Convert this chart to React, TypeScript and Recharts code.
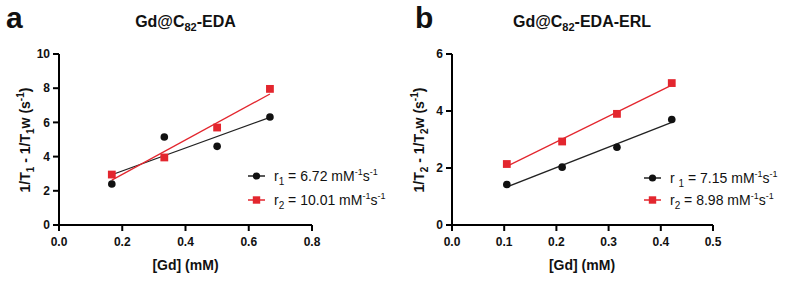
import React from 'react';
import { ScatterChart, Scatter, XAxis, YAxis } from 'recharts';

// Panel a: Gd@C82-EDA
const concA = [0.167, 0.333, 0.5, 0.667];
const r1A = [2.4, 5.15, 4.6, 6.32];
const r2A = [2.95, 3.95, 5.7, 7.96];
const xTicksA = [0, 0.2, 0.4, 0.6, 0.8];
const yTicksA = [0, 2, 4, 6, 8, 10];

// Panel b: Gd@C82-EDA-ERL
const concB = [0.105, 0.211, 0.316, 0.421];
const r1B = [1.42, 2.03, 2.73, 3.7];
const r2B = [2.14, 2.93, 3.9, 4.98];
const xTicksB = [0, 0.1, 0.2, 0.3, 0.4, 0.5];
const yTicksB = [0, 2, 4, 6];

const RED = '#e3262e';
const BLACK = '#111111';
const FONT = '"Liberation Sans", Arial, Helvetica, sans-serif';

const toPts = (xs: number[], ys: number[]) => xs.map((x, i) => ({ x, y: ys[i] }));

// least-squares fit line through the data (as drawn in the figure)
const fitLine = (xs: number[], ys: number[]) => {
  const n = xs.length;
  const mx = xs.reduce((a, b) => a + b, 0) / n;
  const my = ys.reduce((a, b) => a + b, 0) / n;
  let sxy = 0, sxx = 0;
  xs.forEach((x, i) => { sxy += (x - mx) * (ys[i] - my); sxx += (x - mx) * (x - mx); });
  const m = sxy / sxx;
  const b = my - m * mx;
  const x0 = Math.min(...xs), x1 = Math.max(...xs);
  return [{ x: x0, y: m * x0 + b }, { x: x1, y: m * x1 + b }];
};

const Dot = (p: any) => <circle cx={p.cx} cy={p.cy} r={3.8} fill={BLACK} />;
const Sq = (p: any) => <rect x={p.cx - 3.9} y={p.cy - 3.9} width={7.8} height={7.8} fill={RED} />;
const NoShape = () => <g />;

const tickStyle = { fill: '#111', fontSize: 12, fontWeight: 700, fontFamily: FONT };

function Panel(props: {
  xs: number[]; s1: number[]; s2: number[]; xTicks: number[]; yTicks: number[];
  marginLeft: number; marginRight: number;
}) {
  const { xs, s1, s2, xTicks, yTicks, marginLeft, marginRight } = props;
  const xMax = xTicks[xTicks.length - 1];
  const yMax = yTicks[yTicks.length - 1];
  return (
    <ScatterChart width={400} height={287} margin={{ top: 54, right: marginRight, bottom: 30, left: marginLeft }}>
      <XAxis
        type="number" dataKey="x" domain={[0, xMax]} ticks={xTicks} height={32}
        tickFormatter={(v: number) => v.toFixed(1)} tick={tickStyle}
        axisLine={{ stroke: '#000', strokeWidth: 2 }} tickLine={{ stroke: '#000', strokeWidth: 2 }}
        tickSize={6} tickMargin={6} interval={0} allowDecimals
      />
      <YAxis
        type="number" dataKey="y" domain={[0, yMax]} ticks={yTicks} width={40}
        tick={tickStyle} axisLine={{ stroke: '#000', strokeWidth: 2 }} tickLine={{ stroke: '#000', strokeWidth: 2 }}
        tickSize={6} tickMargin={3} interval={0}
      />
      <Scatter data={fitLine(xs, s1)} line={{ stroke: '#222', strokeWidth: 1.3 }} shape={NoShape} isAnimationActive={false} legendType="none" />
      <Scatter data={fitLine(xs, s2)} line={{ stroke: RED, strokeWidth: 1.3 }} shape={NoShape} isAnimationActive={false} legendType="none" />
      <Scatter data={toPts(xs, s1)} shape={Dot} isAnimationActive={false} />
      <Scatter data={toPts(xs, s2)} shape={Sq} isAnimationActive={false} />
    </ScatterChart>
  );
}

const T = (p: any) => <tspan {...p} />;

function LegendRow(props: { x: number; y: number; kind: 'dot' | 'sq'; children: React.ReactNode }) {
  const { x, y, kind, children } = props;
  const color = kind === 'dot' ? '#222' : RED;
  return (
    <g>
      <line x1={x} y1={y} x2={x + 17} y2={y} stroke={color} strokeWidth={1.5} />
      {kind === 'dot'
        ? <circle cx={x + 8.5} cy={y} r={3.6} fill={BLACK} />
        : <rect x={x + 8.5 - 3.7} y={y - 3.7} width={7.4} height={7.4} fill={RED} />}
      <text x={x + 26} y={y + 5} fontSize={14} fontFamily={FONT} fill="#111">{children}</text>
    </g>
  );
}

const unit = (
  <>
    <T> mM</T><T fontSize={9} dy={-6}>-1</T><T fontSize={14} dy={6}>s</T><T fontSize={9} dy={-6}>-1</T>
  </>
);

export default function App() {
  return (
    <div style={{ position: 'absolute', left: 0, top: 0, width: 800, height: 287, background: '#fff' }}>
      <div style={{ position: 'absolute', left: 0, top: 0 }}>
        <Panel xs={concA} s1={r1A} s2={r2A} xTicks={xTicksA} yTicks={yTicksA} marginLeft={19} marginRight={88} />
      </div>
      <div style={{ position: 'absolute', left: 400, top: 0 }}>
        <Panel xs={concB} s1={r1B} s2={r2B} xTicks={xTicksB} yTicks={yTicksB} marginLeft={12} marginRight={87} />
      </div>
      <svg width={800} height={287} style={{ position: 'absolute', left: 0, top: 0, pointerEvents: 'none' }}>
        <g fontFamily={FONT} fill="#111">
          <text x={6} y={28} fontSize={30} fontWeight={700}>a</text>
          <text x={415} y={28} fontSize={30} fontWeight={700}>b</text>

          <text x={185.5} y={27} fontSize={16} fontWeight={700} textAnchor="middle">
            <T>Gd@C</T><T fontSize={11} dy={4}>82</T><T fontSize={16} dy={-4}>-EDA</T>
          </text>
          <text x={582} y={27} fontSize={16} fontWeight={700} textAnchor="middle">
            <T>Gd@C</T><T fontSize={11} dy={4}>82</T><T fontSize={16} dy={-4}>-EDA-ERL</T>
          </text>

          <text x={185.5} y={270} fontSize={14} fontWeight={700} textAnchor="middle">[Gd] (mM)</text>
          <text x={582} y={270} fontSize={14} fontWeight={700} textAnchor="middle">[Gd] (mM)</text>

          <text x={30} y={140} fontSize={14} fontWeight={700} textAnchor="middle" transform="rotate(-90 30 140)">
            <T>1/T</T><T fontSize={10} dy={4}>1</T><T fontSize={14} dy={-4}> - 1/T</T><T fontSize={10} dy={4}>1</T>
            <T fontSize={14} dy={-4}>w (s</T><T fontSize={10} dy={-6}>-1</T><T fontSize={14} dy={6}>)</T>
          </text>
          <text x={424} y={140} fontSize={14} fontWeight={700} textAnchor="middle" transform="rotate(-90 424 140)">
            <T>1/T</T><T fontSize={10} dy={4}>2</T><T fontSize={14} dy={-4}> - 1/T</T><T fontSize={10} dy={4}>2</T>
            <T fontSize={14} dy={-4}>w (s</T><T fontSize={10} dy={-6}>-1</T><T fontSize={14} dy={6}>)</T>
          </text>
        </g>

        <LegendRow x={248} y={176} kind="dot">
          <T>r</T><T fontSize={10} dy={4}>1</T><T fontSize={14} dy={-4}> = 6.72</T>{unit}
        </LegendRow>
        <LegendRow x={248} y={200} kind="sq">
          <T>r</T><T fontSize={10} dy={4}>2</T><T fontSize={14} dy={-4}> = 10.01</T>{unit}
        </LegendRow>
        <LegendRow x={644} y={178} kind="dot">
          <T>r </T><T fontSize={10} dy={4}>1</T><T fontSize={14} dy={-4}> = 7.15</T>{unit}
        </LegendRow>
        <LegendRow x={644} y={200} kind="sq">
          <T>r</T><T fontSize={10} dy={4}>2</T><T fontSize={14} dy={-4}> = 8.98</T>{unit}
        </LegendRow>
      </svg>
    </div>
  );
}
